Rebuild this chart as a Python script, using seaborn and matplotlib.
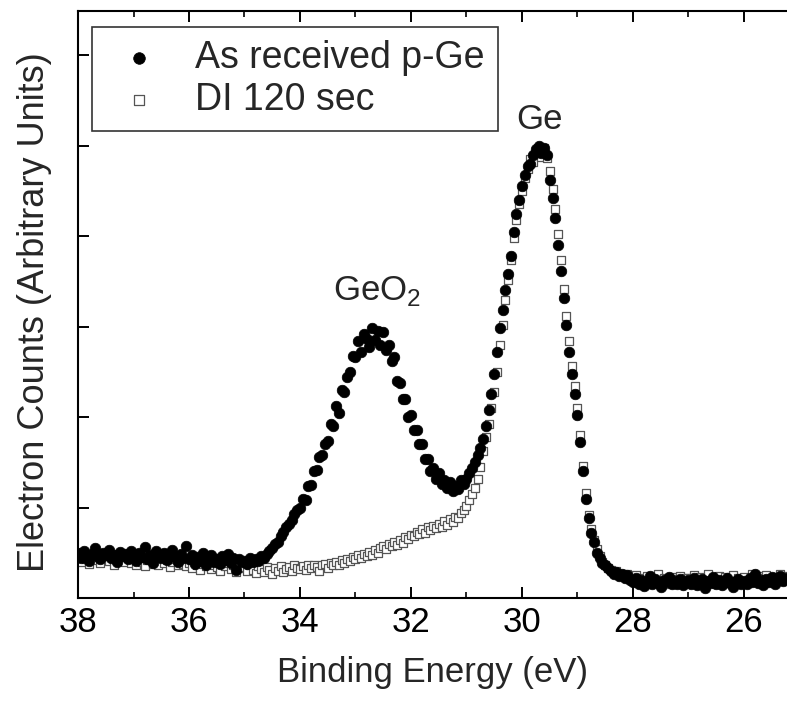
import numpy as np
import pandas as pd
import matplotlib
matplotlib.use("Agg")
import matplotlib.pyplot as plt
from matplotlib.ticker import MultipleLocator
import seaborn as sns

# Binding energy grid (eV), 0.05 eV steps from 38.00 down to 25.25
energy = np.round(38.0 - 0.05 * np.arange(256), 2)

as_received = [
    0.50, 0.44, 0.52, 0.47, 0.41, 0.49, 0.55, 0.46, 0.43, 0.50, 0.47, 0.53, 0.44, 0.48, 0.40, 0.51, 0.46, 0.49, 0.43, 0.52,
    0.47, 0.41, 0.50, 0.45, 0.56, 0.43, 0.48, 0.39, 0.52, 0.46, 0.44, 0.50, 0.42, 0.47, 0.53, 0.45, 0.40, 0.49, 0.44, 0.58,
    0.43, 0.47, 0.38, 0.45, 0.41, 0.50, 0.36, 0.44, 0.47, 0.40, 0.43, 0.38, 0.46, 0.42, 0.49, 0.39, 0.44, 0.31, 0.43, 0.40,
    0.41, 0.38, 0.44, 0.40, 0.43, 0.41, 0.46, 0.44, 0.49, 0.52, 0.55, 0.60, 0.62, 0.68, 0.73, 0.78, 0.82, 0.86, 0.93, 0.97,
    1.00, 1.10, 1.08, 1.24, 1.25, 1.40, 1.42, 1.56, 1.58, 1.70, 1.74, 1.92, 1.90, 2.12, 2.05, 2.30, 2.28, 2.44, 2.50, 2.68,
    2.66, 2.84, 2.72, 2.92, 2.86, 2.78, 2.98, 2.85, 2.95, 2.80, 2.94, 2.74, 2.80, 2.62, 2.66, 2.40, 2.38, 2.20, 2.20, 2.00,
    2.02, 1.86, 1.86, 1.70, 1.70, 1.54, 1.54, 1.40, 1.44, 1.32, 1.38, 1.26, 1.30, 1.22, 1.28, 1.18, 1.24, 1.20, 1.30, 1.26,
    1.32, 1.38, 1.44, 1.50, 1.58, 1.66, 1.76, 1.90, 2.08, 2.26, 2.48, 2.72, 2.98, 3.18, 3.40, 3.58, 3.78, 4.05, 4.25, 4.40,
    4.55, 4.68, 4.78, 4.80, 4.90, 4.96, 5.00, 4.92, 4.97, 4.90, 4.62, 4.42, 4.20, 3.90, 3.62, 3.32, 3.02, 2.72, 2.48, 2.26,
    2.02, 1.72, 1.40, 1.10, 0.88, 0.72, 0.62, 0.50, 0.44, 0.39, 0.36, 0.33, 0.30, 0.27, 0.29, 0.24, 0.26, 0.22, 0.25, 0.20,
    0.18, 0.22, 0.15, 0.20, 0.13, 0.19, 0.24, 0.16, 0.21, 0.17, 0.12, 0.20, 0.18, 0.23, 0.15, 0.19, 0.16, 0.21, 0.14, 0.18,
    0.20, 0.16, 0.22, 0.14, 0.18, 0.21, 0.11, 0.19, 0.17, 0.23, 0.16, 0.20, 0.14, 0.18, 0.22, 0.17, 0.12, 0.19, 0.21, 0.16,
    0.19, 0.15, 0.22, 0.18, 0.26, 0.17, 0.20, 0.14, 0.21, 0.18, 0.23, 0.16, 0.20, 0.24, 0.19, 0.22,
]

di_120 = [
    0.46, 0.40, 0.48, 0.43, 0.38, 0.45, 0.50, 0.42, 0.39, 0.47, 0.44, 0.41, 0.46, 0.37, 0.45, 0.42, 0.48, 0.40, 0.44, 0.39,
    0.43, 0.37, 0.45, 0.40, 0.35, 0.42, 0.46, 0.38, 0.41, 0.36, 0.44, 0.39, 0.42, 0.34, 0.40, 0.43, 0.37, 0.41, 0.38, 0.35,
    0.39, 0.33, 0.40, 0.36, 0.31, 0.38, 0.35, 0.41, 0.32, 0.37, 0.34, 0.30, 0.38, 0.35, 0.39, 0.32, 0.36, 0.29, 0.35, 0.33,
    0.34, 0.30, 0.36, 0.31, 0.28, 0.35, 0.32, 0.29, 0.34, 0.31, 0.27, 0.33, 0.30, 0.35, 0.29, 0.32, 0.34, 0.30, 0.36, 0.33,
    0.32, 0.35, 0.31, 0.36, 0.33, 0.37, 0.34, 0.30, 0.36, 0.38, 0.33, 0.39, 0.36, 0.40, 0.37, 0.42, 0.39, 0.43, 0.41, 0.45,
    0.43, 0.47, 0.44, 0.49, 0.46, 0.51, 0.48, 0.53, 0.50, 0.55, 0.58, 0.54, 0.60, 0.57, 0.62, 0.59, 0.64, 0.61, 0.67, 0.65,
    0.70, 0.68, 0.73, 0.71, 0.76, 0.72, 0.78, 0.75, 0.80, 0.77, 0.82, 0.79, 0.85, 0.81, 0.87, 0.84, 0.90, 0.88, 0.94, 0.97,
    1.02, 1.08, 1.15, 1.22, 1.32, 1.45, 1.62, 1.78, 1.92, 2.10, 2.28, 2.50, 2.80, 3.02, 3.30, 3.52, 3.74, 3.98, 4.18, 4.36,
    4.50, 4.64, 4.74, 4.85, 4.82, 4.92, 4.96, 4.88, 4.98, 4.86, 4.72, 4.52, 4.30, 4.02, 3.74, 3.42, 3.12, 2.84, 2.56, 2.34,
    2.10, 1.80, 1.46, 1.16, 0.92, 0.76, 0.64, 0.54, 0.46, 0.40, 0.36, 0.33, 0.31, 0.28, 0.30, 0.26, 0.27, 0.24, 0.26, 0.22,
    0.21, 0.25, 0.18, 0.22, 0.17, 0.24, 0.20, 0.23, 0.19, 0.26, 0.18, 0.22, 0.20, 0.16, 0.23, 0.21, 0.19, 0.24, 0.17, 0.22,
    0.22, 0.18, 0.25, 0.20, 0.23, 0.17, 0.21, 0.26, 0.19, 0.22, 0.18, 0.24, 0.20, 0.23, 0.17, 0.21, 0.25, 0.19, 0.22, 0.20,
    0.23, 0.19, 0.21, 0.26, 0.20, 0.24, 0.18, 0.22, 0.25, 0.21, 0.19, 0.23, 0.20, 0.26, 0.22, 0.24,
]

series_labels = ["As received p-Ge", "DI 120 sec"]
x_ticks = [38, 36, 34, 32, 30, 28, 26]
peak_labels = ["Ge", "GeO$_\\mathregular{2}$"]
peak_pos = [(29.68, 5.29), (32.62, 3.39)]

sns.set_style("ticks")
plt.rcParams["font.family"] = ["Liberation Sans", "DejaVu Sans"]
plt.rcParams["mathtext.fontset"] = "custom"
plt.rcParams["mathtext.rm"] = "Liberation Sans"

df = pd.DataFrame({"energy": energy, "as": as_received, "di": di_120})

fig = plt.figure(figsize=(7.87, 7.01), dpi=100)
ax = fig.add_axes([78 / 787, 1 - 598 / 701, 1 - 78 / 787, (598 - 11) / 701])

sns.scatterplot(data=df, x="energy", y="di", ax=ax, marker="s", s=36,
                facecolor="white", edgecolor="#555555", linewidth=0.9,
                label=series_labels[1], zorder=2)
sns.scatterplot(data=df, x="energy", y="as", ax=ax, marker="o", s=58,
                color="black", edgecolor="black", linewidth=0.5,
                label=series_labels[0], zorder=3)

ax.set_xlim(38.0, 38.0 - (787 - 78) / 55.5)
ax.set_ylim(0, 6.49)
ax.set_xticks(x_ticks)
ax.xaxis.set_minor_locator(MultipleLocator(1))
ax.set_yticks([1, 2, 3, 4, 5, 6])
ax.set_yticklabels([])
ax.tick_params(axis="both", which="major", direction="in", length=8, width=1.4,
               top=True, right=False, labelsize=25, pad=6, colors="black")
ax.tick_params(axis="x", which="minor", direction="in", length=4, width=1.4, top=True)
for side in ["left", "bottom", "top"]:
    ax.spines[side].set_linewidth(1.5)
    ax.spines[side].set_color("black")
ax.spines["right"].set_visible(False)

ax.set_xlabel("Binding Energy (eV)", fontsize=25, labelpad=12)
ax.set_ylabel("Electron Counts (Arbitrary Units)", fontsize=26)
ax.yaxis.set_label_coords(-0.036, 0.487)

for txt, (px, py) in zip(peak_labels, peak_pos):
    ax.text(px, py, txt, fontsize=25, ha="center", va="center")

handles, labels = ax.get_legend_handles_labels()
order = [labels.index(series_labels[0]), labels.index(series_labels[1])]
leg = ax.legend([handles[i] for i in order], [labels[i] for i in order],
                loc="upper left", bbox_to_anchor=(0.02, 0.973), borderaxespad=0,
                fontsize=27, frameon=True, fancybox=False, markerscale=1.1,
                handletextpad=0.6, borderpad=0.35, labelspacing=0.15,
                handlelength=1.8)
leg.get_frame().set_edgecolor("black")
leg.get_frame().set_linewidth(1.2)

fig.savefig("out.png", dpi=100)
